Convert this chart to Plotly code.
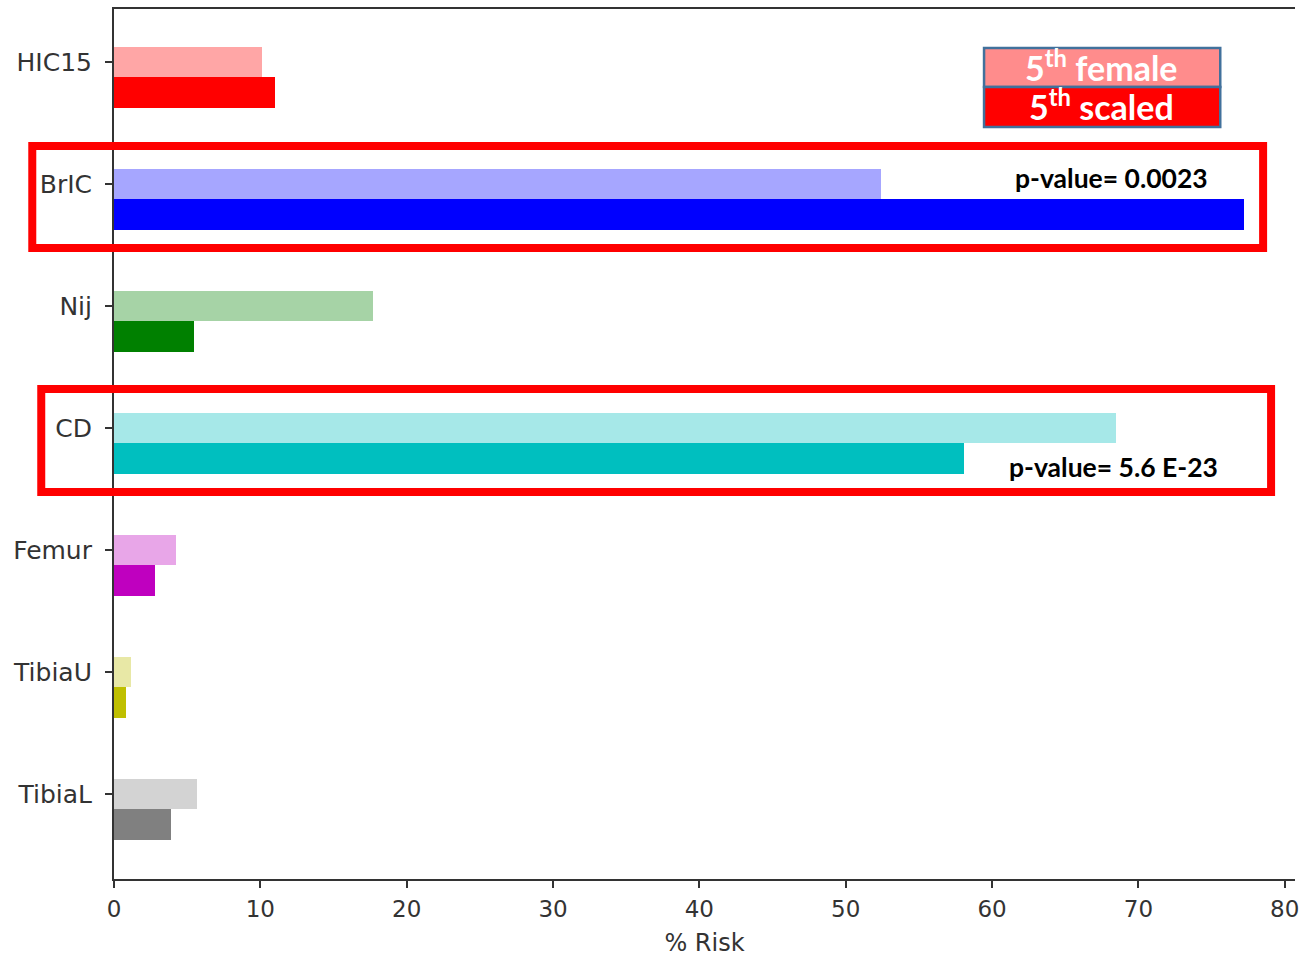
import plotly.graph_objects as go

# Injury criteria and risk values (% risk)
categories = ["HIC15", "BrIC", "Nij", "CD", "Femur", "TibiaU", "TibiaL"]
risk_female = [10.1, 52.4, 17.7, 68.5, 4.25, 1.15, 5.7]
risk_scaled = [11.0, 77.2, 5.5, 58.1, 2.8, 0.8, 3.9]

color_female = ["#ffa6a6", "#a6a6ff", "#a6d3a6", "#a6e8e8", "#e8a6e8", "#e8e8a6", "#d3d3d3"]
color_scaled = ["#ff0000", "#0000ff", "#008000", "#00bfbf", "#bf00bf", "#bfbf00", "#808080"]

x_ticks = [0, 10, 20, 30, 40, 50, 60, 70, 80]

W, H = 1299, 957
ML, MR, MT, MB = 114, 0, 9, 78

positions = list(range(len(categories)))
bar_h = 0.25

fig = go.Figure()
fig.add_trace(go.Bar(
    x=risk_female, y=positions, orientation="h", width=bar_h,
    marker=dict(color=color_female, line=dict(width=0)),
    name="5th female", showlegend=False,
))
fig.add_trace(go.Bar(
    x=risk_scaled, y=[p + bar_h for p in positions], orientation="h", width=bar_h,
    marker=dict(color=color_scaled, line=dict(width=0)),
    name="5th scaled", showlegend=False,
))

def px_x(px):
    return (px - ML) / (W - ML - MR)

def px_y(py):
    return (H - MB - py) / (H - MT - MB)

shapes = []
# highlight frames around BrIC and CD
for (x0, y0, x1, y1) in [(32, 146, 1267, 248), (41, 389, 1275, 492)]:
    shapes.append(dict(type="rect", xref="paper", yref="paper",
                       x0=px_x(x0), x1=px_x(x1), y0=px_y(y0), y1=px_y(y1),
                       line=dict(color="#ff0000", width=8), fillcolor="rgba(0,0,0,0)"))
# legend box
shapes.append(dict(type="rect", xref="paper", yref="paper",
                   x0=px_x(987), x1=px_x(1224), y0=px_y(48), y1=px_y(87),
                   line=dict(color="#41719c", width=2.5), fillcolor="#ff8c8c"))
shapes.append(dict(type="rect", xref="paper", yref="paper",
                   x0=px_x(987), x1=px_x(1224), y0=px_y(87), y1=px_y(127),
                   line=dict(color="#41719c", width=2.5), fillcolor="#ff0000"))

def note(text, cx, cy, size, color):
    return dict(text=text, xref="paper", yref="paper",
                x=px_x(cx), y=px_y(cy), xanchor="center", yanchor="middle",
                showarrow=False,
                font=dict(family="Lato", size=size, color=color, weight="bold"))

annotations = [
    note("5<sup>th</sup> female", 1105, 66, 34, "white"),
    note("5<sup>th</sup> scaled", 1105, 105, 34, "white"),
    note("p-value= 0.0023", 1115, 178, 26.5, "black"),
    note("p-value= 5.6 E-23", 1117, 467, 26.5, "black"),
]

fig.update_layout(
    width=W, height=H,
    margin=dict(l=ML, r=MR, t=MT, b=MB, pad=0),
    paper_bgcolor="white", plot_bgcolor="white",
    barmode="overlay", bargap=0,
    shapes=shapes, annotations=annotations,
    xaxis=dict(
        range=[0, 80.7], tickvals=x_ticks, ticktext=[str(v) for v in x_ticks],
        showgrid=False, zeroline=False, showline=True, linecolor="#333333", linewidth=2,
        mirror=True, ticks="outside", ticklen=7, tickwidth=1.5, tickcolor="#333333",
        tickfont=dict(family="DejaVu Sans", size=23, color="#333333"),
        ticklabelstandoff=1, ticklabeloverflow="allow",
        title=dict(text="% Risk", font=dict(family="DejaVu Sans", size=24, color="#333333"),
                   standoff=16),
    ),
    yaxis=dict(
        range=[6.697, -0.434], tickvals=positions, ticktext=categories,
        showgrid=False, zeroline=False, showline=True, linecolor="#333333", linewidth=2,
        ticks="outside", ticklen=7, tickwidth=1.5, tickcolor="#333333",
        tickfont=dict(family="DejaVu Sans", size=25, color="#333333"),
        ticklabelstandoff=8,
    ),
)

fig.write_html("out.html")
